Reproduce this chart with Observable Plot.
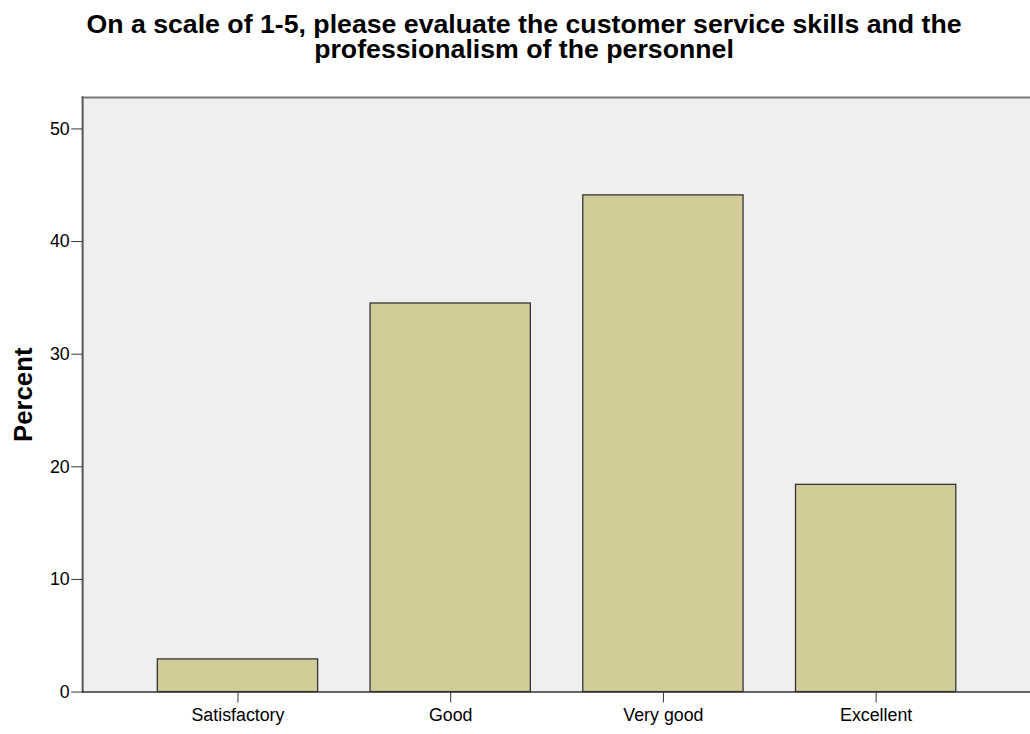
<!DOCTYPE html>
<html>
<head>
<meta charset="utf-8">
<script src="https://cdn.jsdelivr.net/npm/d3@7"></script>
<script src="https://cdn.jsdelivr.net/npm/@observablehq/plot@0.6"></script>
<style>
  html, body { margin: 0; padding: 0; background: #fff; overflow: hidden; width: 1030px; height: 734px; }
  #title {
    box-sizing: border-box; width: 1030px; height: 88px; padding-top: 12px; padding-left: 18px;
    font-family: "Liberation Sans", Arial, sans-serif; font-weight: bold; font-size: 26.7px;
    line-height: 24.7px; text-align: center; white-space: nowrap; color: #000;
  }
  #chart { width: 1030px; overflow: hidden; }
</style>
</head>
<body>
<div id="title">On a scale of 1-5, please evaluate the customer service skills and the<br>professionalism of the personnel</div>
<div id="chart"></div>
<script>
const categories = ["Satisfactory", "Good", "Very good", "Excellent"];
const percents = [2.9, 34.5, 44.1, 18.4];
const yTicks = [0, 10, 20, 30, 40, 50];
const yLabel = "Percent";

const data = categories.map((c, i) => ({category: c, percent: percents[i]}));

const chart = Plot.plot({
  width: 1041,
  height: 646,
  marginLeft: 83,
  marginRight: 0,
  marginTop: 9,
  marginBottom: 36,
  style: {fontFamily: "'Liberation Sans', Arial, sans-serif", fontSize: "18px", color: "#000", background: "#fff"},
  x: {domain: categories, paddingInner: 0.248, paddingOuter: 0.3465, align: 0.5, label: null},
  y: {domain: [0, 52.8], label: null},
  marks: [
    Plot.frame({fill: "#efefef"}),
    Plot.barY(data, {x: "category", y: "percent", fill: "#d2cd98", stroke: "#333", strokeWidth: 1.3}),
    Plot.frame({anchor: "top", stroke: "#7a7a7a", strokeWidth: 2}),
    Plot.frame({anchor: "left", stroke: "#555", strokeWidth: 2}),
    Plot.ruleY([0], {stroke: "#333", strokeWidth: 1.5}),
    Plot.axisY({ticks: yTicks, tickSize: 11, tickPadding: 2, fontSize: 18, label: null, stroke: "#333"}),
    Plot.axisX({tickSize: 11, tickPadding: 5, fontSize: 18, label: null, stroke: "#333"}),
    Plot.text([yLabel], {frameAnchor: "left", textAnchor: "middle", rotate: -90, dx: -59.5, fontSize: 26, fontWeight: "bold", fill: "#000"})
  ]
});
document.getElementById("chart").appendChild(chart);
</script>
</body>
</html>
